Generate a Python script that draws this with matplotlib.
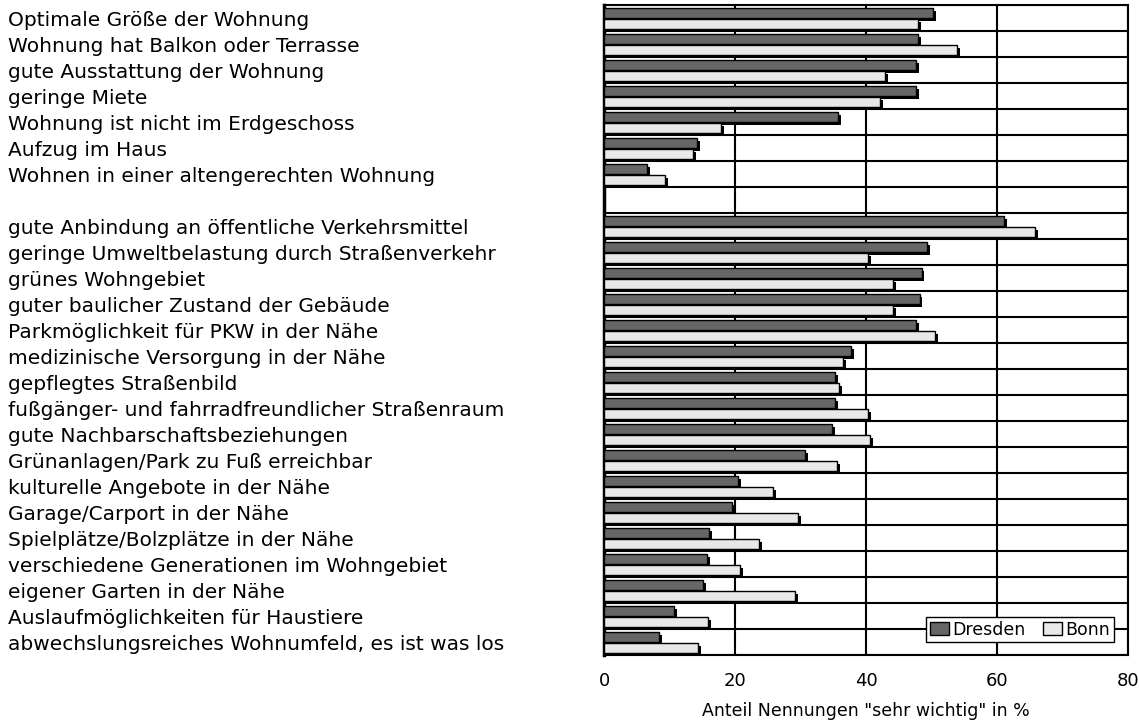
import matplotlib
matplotlib.use("Agg")
import matplotlib.pyplot as plt
import matplotlib.patheffects as pe
from matplotlib.transforms import blended_transform_factory
from matplotlib.patches import Patch
import numpy as np

plt.rcParams['font.family'] = ['DejaVu Sans']

categories = [
    "Optimale Größe der Wohnung",
    "Wohnung hat Balkon oder Terrasse",
    "gute Ausstattung der Wohnung",
    "geringe Miete",
    "Wohnung ist nicht im Erdgeschoss",
    "Aufzug im Haus",
    "Wohnen in einer altengerechten Wohnung",
    "",
    "gute Anbindung an öffentliche Verkehrsmittel",
    "geringe Umweltbelastung durch Straßenverkehr",
    "grünes Wohngebiet",
    "guter baulicher Zustand der Gebäude",
    "Parkmöglichkeit für PKW in der Nähe",
    "medizinische Versorgung in der Nähe",
    "gepflegtes Straßenbild",
    "fußgänger- und fahrradfreundlicher Straßenraum",
    "gute Nachbarschaftsbeziehungen",
    "Grünanlagen/Park zu Fuß erreichbar",
    "kulturelle Angebote in der Nähe",
    "Garage/Carport in der Nähe",
    "Spielplätze/Bolzplätze in der Nähe",
    "verschiedene Generationen im Wohngebiet",
    "eigener Garten in der Nähe",
    "Auslaufmöglichkeiten für Haustiere",
    "abwechslungsreiches Wohnumfeld, es ist was los",
]

dresden = [50.2, 48.0, 47.6, 47.6, 35.7, 14.2, 6.6, np.nan,
           61.1, 49.3, 48.5, 48.2, 47.6, 37.7, 35.3, 35.3, 34.8, 30.7,
           20.5, 19.6, 16.0, 15.7, 15.1, 10.7, 8.4]
bonn = [48.0, 53.9, 42.9, 42.1, 17.9, 13.6, 9.3, np.nan,
        65.8, 40.3, 44.1, 44.2, 50.5, 36.5, 35.9, 40.3, 40.6, 35.6,
        25.8, 29.6, 23.7, 20.8, 29.2, 15.9, 14.4]

series_names = ["Dresden", "Bonn"]
xticks = [0, 20, 40, 60, 80]
xlabel = 'Anteil Nennungen "sehr wichtig" in %'

fig = plt.figure(figsize=(11.39, 7.2), dpi=100)
ax = fig.add_axes([0.5303, 0.0903, 0.9903 - 0.5303, 0.9931 - 0.0903])

y = np.arange(len(categories))
h = 0.40
shadow = [pe.SimplePatchShadow(offset=(2, -2), shadow_rgbFace='black', alpha=1.0), pe.Normal()]

b1 = ax.barh(y - 0.19, dresden, height=h, color='#666666', edgecolor='black', linewidth=1.0, zorder=3)
b2 = ax.barh(y + 0.23, bonn, height=h, color='#e8e8e8', edgecolor='black', linewidth=1.0, zorder=3)
for bars in (b1, b2):
    for p in bars:
        p.set_path_effects(shadow)

ax.set_xlim(0, 80)
ax.set_ylim(len(categories) - 0.5, -0.5)
ax.set_xticks(xticks)
ax.set_xticklabels([str(t) for t in xticks], fontsize=13)
ax.set_yticks([])
ax.set_yticks(np.arange(len(categories) + 1) - 0.5, minor=True)
ax.tick_params(axis='both', which='both', length=0)
ax.tick_params(axis='x', pad=12)
ax.grid(axis='x', which='major', color='black', linewidth=1.5, zorder=1)
ax.grid(axis='y', which='minor', color='black', linewidth=1.5, zorder=1)
ax.set_axisbelow(True)
for s in ax.spines.values():
    s.set_color('black')
    s.set_linewidth(1.5)
ax.spines['left'].set_linewidth(2.5)

ax.set_xlabel(xlabel, fontsize=12.5, labelpad=9)

trans = blended_transform_factory(fig.transFigure, ax.transData)
for yi, lab in zip(y, categories):
    if lab:
        ax.text(8 / 1139, yi + 0.08, lab, transform=trans, ha='left', va='center', fontsize=14.5)

handles = [Patch(facecolor='#666666', edgecolor='black', linewidth=1.0),
           Patch(facecolor='#e8e8e8', edgecolor='black', linewidth=1.0)]
leg = ax.legend(handles, series_names, ncol=2, loc='lower right', bbox_to_anchor=(0.973, 0.02),
                fontsize=12.5, frameon=True, fancybox=False, edgecolor='black',
                handlelength=1.1, handleheight=0.7, handletextpad=0.2, columnspacing=1.0,
                borderpad=0.2, borderaxespad=0)
leg.get_frame().set_linewidth(1.0)
leg.get_frame().set_alpha(1)

fig.savefig("out.png", dpi=100)
